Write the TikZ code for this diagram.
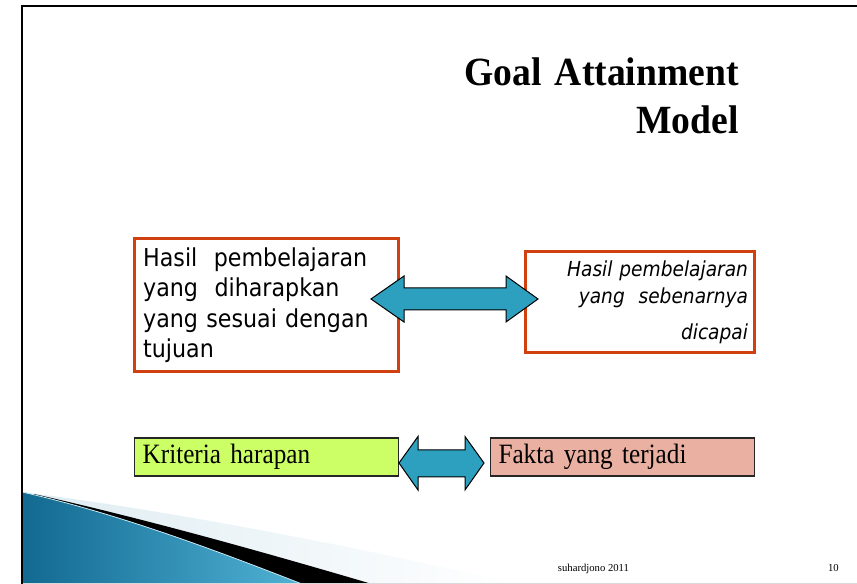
\documentclass[tikz,border=0pt]{standalone}
\usepackage{fontspec}
\setmainfont{Liberation Serif}
\newfontfamily\boxfont[FakeStretch=0.9]{DejaVu Sans}
\newfontfamily\romfont[FakeStretch=0.9, WordSpace=0.7]{Liberation Serif}
\newfontfamily\titlefont[FakeStretch=0.94, WordSpace=0.7]{Liberation Serif}
\definecolor{boxred}{RGB}{208,64,16}
\definecolor{arrowteal}{RGB}{44,160,190}
\definecolor{limefill}{RGB}{204,255,102}
\definecolor{pinkfill}{RGB}{234,176,162}
\definecolor{swooshdark}{RGB}{18,105,145}
\definecolor{swooshlight}{RGB}{80,178,212}
\definecolor{swooshpale}{RGB}{222,236,242}

\begin{document}
\begin{tikzpicture}[
    x=0.75pt, y=-0.75pt,
    goalbox/.style={draw=boxred, line width=2pt, fill=white, minimum height=100pt, inner ysep=2pt},
    factbox/.style={draw=black!85, line width=1pt, text width=186pt, inner xsep=6pt, minimum height=28.5pt,
        font=\romfont\fontsize{21}{24}\selectfont, align=left},
    blockarrow/.style={fill=arrowteal, draw=black, line width=0.75pt, line join=miter}
]
\useasboundingbox (0,0) rectangle (857,584);

% Bottom swoosh
\shade[left color=swooshpale, right color=white] (22,492) .. controls (180,512) and (360,548) .. (520,584) -- (22,584) -- cycle;
\fill[black] (34,494) .. controls (150,520) and (270,554) .. (372,584) -- (22,584) -- cycle;
\shade[left color=swooshdark, right color=swooshlight] (22,492) .. controls (120,514) and (220,552) .. (302,584) -- (22,584) -- cycle;
\draw[white!70!swooshlight, line width=0.6pt] (22,492) .. controls (120,514) and (220,552) .. (302,584);

% Frame
\draw[black!15, line width=0.75pt] (22,583) -- (857,583);
\draw[black, line width=1.9pt] (857,6) -- (22,6) -- (22,584);

% Title
\node[anchor=base east, inner sep=0pt, text width=220pt, align=right,
    font=\titlefont\fontsize{30}{36}\selectfont\bfseries] (title) at (739,86) {Goal Attainment\\Model};

% Upper boxes
\node[goalbox, text width=185pt, inner xsep=6.5pt, align=left,
    font=\boxfont\fontsize{18.5}{22.9}\selectfont] (expected) at (266.5,305)
    {Hasil\ \ pembelajaran\\yang\ \ diharapkan\\yang sesuai dengan\\tujuan};
\node[goalbox, text width=162pt, inner xsep=5pt, minimum height=76pt, align=right,
    font=\boxfont\itshape\fontsize{15.5}{20}\selectfont] (actual) at (640,302)
    {Hasil pembelajaran\\yang\ \ sebenarnya\\[7pt]dicapai};

% Lower boxes
\node[factbox, fill=limefill] (criteria) at (266.7,457) {Kriteria harapan};
\node[factbox, fill=pinkfill] (facts) at (622.5,457) {Fakta yang terjadi};

% Double arrows
\draw[blockarrow] (371,299) -- (404,276) -- (404,288) -- (506,288) -- (506,276) -- (538,299)
    -- (506,322) -- (506,310) -- (404,310) -- (404,322) -- cycle;
\draw[blockarrow] (399,463) -- (418,436.5) -- (418,450) -- (465,450) -- (465,436.5) -- (484,463)
    -- (465,490) -- (465,477) -- (418,477) -- (418,490) -- cycle;

% Footer
\node[anchor=base west, inner sep=0pt, font=\fontsize{8}{10}\selectfont] (author) at (557.7,571.7) {suhardjono 2011};
\node[anchor=base east, inner sep=0pt, font=\fontsize{8}{10}\selectfont] (page) at (839,571.7) {10};

\end{tikzpicture}
\end{document}
